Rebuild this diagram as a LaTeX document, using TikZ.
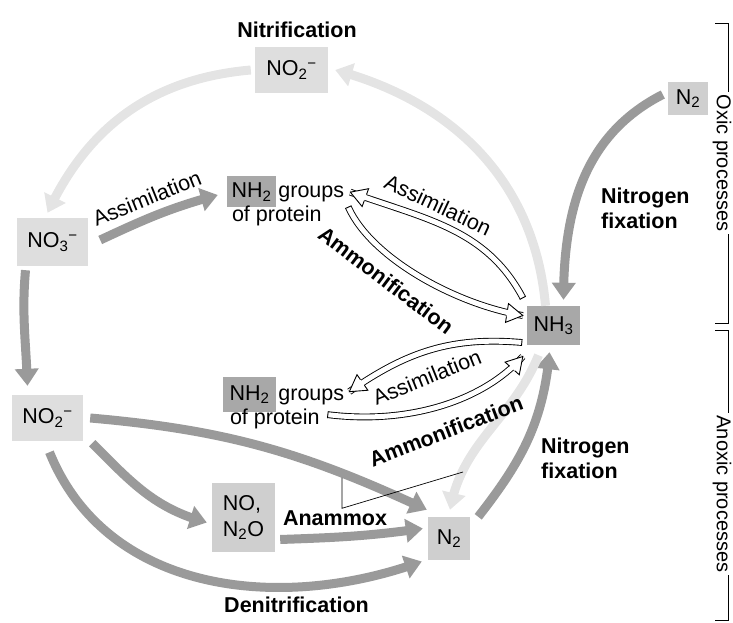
\documentclass[tikz,border=0pt]{standalone}
\usepackage{fontspec}
\setmainfont{Liberation Sans}
\usepackage{tikz}
\usetikzlibrary{positioning,arrows.meta,bending,decorations.markings}
\definecolor{flowgray}{HTML}{9A9A9A}
\definecolor{fadegray}{HTML}{E4E4E4}
\definecolor{boxlight}{HTML}{DEDEDE}
\definecolor{boxmid}{HTML}{CFCFCF}
\definecolor{boxdark}{HTML}{A8A8A8}
\tikzstyle{flow} = [draw=flowgray, line width=9pt, -{Triangle[length=17pt,width=23pt]}]
\tikzstyle{fade} = [flow, draw=fadegray]
\tikzstyle{hollow} = [draw=black, line width=0.9pt, double=white, double distance=5pt,
	postaction={decorate, decoration={markings, mark=at position 1 with {\draw[fill=white, line width=0.9pt, line join=miter] (-16pt,3.4pt) -- (-16pt,9.5pt) -- (0pt,0pt) -- (-16pt,-9.5pt) -- (-16pt,-3.4pt);}}},
	postaction={decorate, decoration={markings, mark=at position 0 with {\draw[line width=0.9pt] (0pt,-3.4pt) -- (0pt,3.4pt);}}}]
\tikzstyle{txt} = [inner sep=0pt, font=\fontsize{21.5}{25}\selectfont]
\tikzstyle{lbl} = [inner sep=0pt, font=\bfseries\fontsize{21.5}{25}\selectfont]
\tikzstyle{side} = [inner sep=3pt, fill=white, rotate=-90, font=\fontsize{20}{22}\selectfont]

\begin{document}
\begin{tikzpicture}[x=1pt, y=1pt]
			\useasboundingbox (0,0) rectangle (733,623);
			\node[txt, fill=boxlight, minimum width=73pt, minimum height=46pt] (no2top) at (291.5,553) {NO\textsubscript{2}\textsuperscript{−}};
			\node[txt, fill=boxlight, minimum width=71pt, minimum height=48pt] (no3) at (52.5,381) {NO\textsubscript{3}\textsuperscript{−}};
			\node[txt, fill=boxdark, minimum width=49pt, minimum height=31pt] (nh2a) at (251.5,431) {NH\textsubscript{2}};
			\node[txt, anchor=base west] (grpa) at ([xshift=2pt]nh2a.base east) {groups};
			\node[txt, anchor=base west] (prota) at ([xshift=5pt,yshift=-24pt]nh2a.base west) {of protein};
			\node[txt, fill=boxdark, minimum width=53pt, minimum height=39pt] (nh3) at (553.5,297.5) {NH\textsubscript{3}};
			\node[txt, fill=boxmid, minimum width=40pt, minimum height=33pt] (n2top) at (688,524.5) {N\textsubscript{2}};
			\node[txt, fill=boxlight, minimum width=71pt, minimum height=46pt] (no2) at (47.5,205) {NO\textsubscript{2}\textsuperscript{−}};
			\node[txt, fill=boxdark, minimum width=53pt, minimum height=35pt] (nh2b) at (249.5,228.5) {NH\textsubscript{2}};
			\node[txt, anchor=base west] (grpb) at ([xshift=2pt]nh2b.base east) {groups};
			\node[txt, anchor=base west] (protb) at ([xshift=7pt,yshift=-24pt]nh2b.base west) {of protein};
			\node[txt, fill=boxmid, minimum width=63pt, minimum height=69pt, align=left, font=\fontsize{21.5}{26}\selectfont] (nono) at (243.5,105.5) {NO,\\N\textsubscript{2}O};
			\node[txt, fill=boxmid, minimum width=42pt, minimum height=43pt] (n2bot) at (449,84.5) {N\textsubscript{2}};
			\draw[fade] ([xshift=-8pt]nh3.north) to[out=95,in=-15] ([xshift=7pt]no2top.east);
			\draw[fade] ([xshift=-4pt]no2top.west) to[out=185,in=65] ([xshift=-5pt,yshift=5pt]no3.north);
			\draw[flow] ([xshift=12pt,yshift=2pt]no3.east) to[out=25,in=195] ([xshift=-9pt,yshift=-3pt]nh2a.west);
			\draw[flow] ([xshift=-27pt,yshift=-4pt]no3.south) to[out=-95,in=92] ([xshift=-20pt,yshift=9pt]no2.north);
			\draw[flow] ([xshift=-5pt,yshift=4pt]n2top.west) to[out=207,in=90] ([xshift=10pt,yshift=6pt]nh3.north);
			\draw[flow] ([xshift=7pt]no2.east) to[out=-5,in=155] ([xshift=-1pt,yshift=7pt]n2bot.north west);
			\draw[flow] ([xshift=9pt,yshift=-2pt]no2.south east) to[out=-45,in=165] ([xshift=-5pt,yshift=-5pt]nono.west);
			\draw[flow] ([xshift=5pt,yshift=-22pt]nono.east) to[out=2,in=188] ([xshift=-5pt,yshift=10pt]n2bot.west);
			\draw[flow] ([xshift=2pt,yshift=-11pt]no2.south) to[out=-68,in=200] ([xshift=-6pt,yshift=-23pt]n2bot.west);
			\draw[flow] ([xshift=8pt]n2bot.north east) to[out=52,in=-95] ([xshift=-4pt,yshift=-7pt]nh3.south);
			\draw[fade] ([xshift=-15pt,yshift=-10pt]nh3.south) to[out=248,in=80] ([xshift=1pt,yshift=7pt]n2bot.north);
			\draw[hollow] ([xshift=-4pt,yshift=8pt]nh3.north west) to[out=118,in=-20] ([xshift=6pt,yshift=2pt]grpa.east);
			\draw[hollow] ([xshift=4pt,yshift=-13pt]grpa.east) .. controls +(24,-53) and +(-63,10) .. ([xshift=-4pt,yshift=10pt]nh3.west);
			\draw[hollow] ([xshift=-5pt,yshift=-17pt]nh3.west) to[out=175,in=35] ([xshift=5pt,yshift=5pt]grpb.east);
			\draw[hollow] ([xshift=8pt,yshift=4pt]protb.east) .. controls +(80,-10) and +(-40,-45) .. ([xshift=-4pt,yshift=-31pt]nh3.west);
			\node[lbl] (nitri) at (297,593) {Nitrification};
			\node[lbl, inner sep=2pt] (anammox) at (335,105) {Anammox};
			\node[lbl] (denitri) at (296.5,18) {Denitrification};
			\node[lbl, align=left, anchor=west] (fixtop) at (601,415) {Nitrogen\\fixation};
			\node[lbl, align=left, anchor=west] (fixbot) at (541,165) {Nitrogen\\fixation};
			\node[txt, rotate=22] (asmla) at (147,425) {Assimilation};
			\node[txt, rotate=-25] (asmlb) at (438,418) {Assimilation};
			\node[lbl, rotate=-37] (ammla) at (386,343) {Ammonification};
			\node[txt, rotate=22] (asmlc) at (427,246) {Assimilation};
			\node[lbl, rotate=21] (ammlb) at (446,192) {Ammonification};
			\coordinate (ampa) at (342,145);
			\coordinate (ampb) at (463,151);
			\draw[line width=0.7pt] (ampa) -- (ampa |- anammox.north) -- (ampb);
			\coordinate (oxtop) at (728,600);
			\coordinate (oxbot) at (728,300);
			\coordinate (anoxtop) at (728,293);
			\coordinate (anoxbot) at (728,3);
			\draw[line width=0.9pt] ([xshift=-13pt]oxtop) -- (oxtop) -- (oxbot) -- ([xshift=-13pt]oxbot);
			\draw[line width=0.9pt] ([xshift=-13pt]anoxtop) -- (anoxtop) -- (anoxbot) -- ([xshift=-13pt]anoxbot);
			\node[side] (oxic) at (722,460) {Oxic processes};
			\node[side] (anoxic) at (722,129) {Anoxic processes};
\end{tikzpicture}
\end{document}
